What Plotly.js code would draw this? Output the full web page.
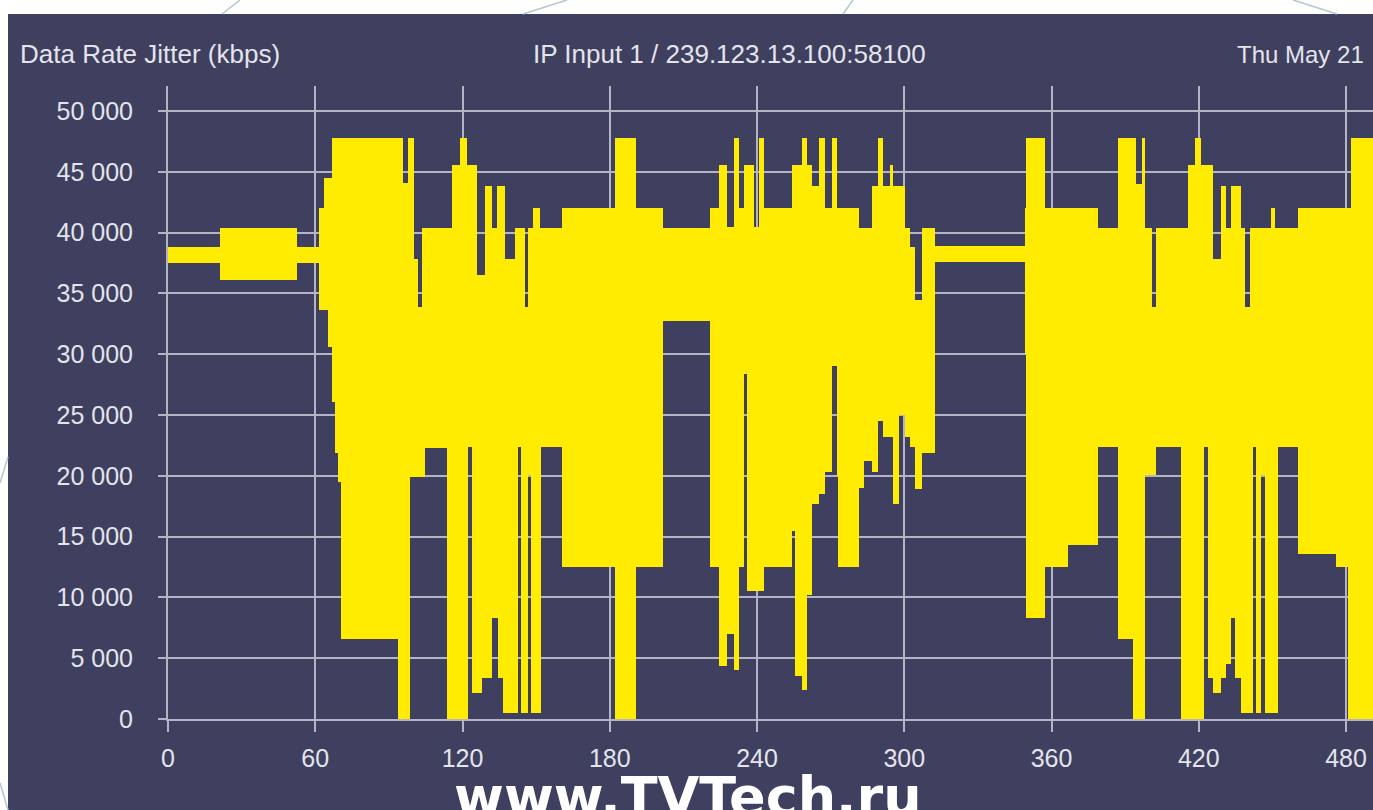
<!DOCTYPE html>
<html><head><meta charset="utf-8">
<script src="https://cdn.plot.ly/plotly-3.0.1.min.js"></script>
<style>html,body{margin:0;padding:0;background:#fff;overflow:hidden;} #chart{width:1373px;height:810px;}</style>
</head><body><div id="chart"></div>
<script>
// Data Rate Jitter: each segment spans [segStart, segEnd] seconds with min/max kbps
const segStart = [0,21.2,52.6,61.4,63.6,65.3,66.7,68.1,69.4,70.6,93.8,95.8,97.8,98.6,100.4,102,103.6,104.7,113.7,115.7,119,121.7,122.4,123.8,125.8,127.8,129.2,131.9,133.9,134.6,136.6,137.3,141.3,142.6,144,145.3,146.7,148,148.7,151.4,152.1,160.6,182.3,190.8,201.6,221,224.4,227.8,230.5,232.6,234.6,236,238.6,240.7,242.7,254.2,255.6,258.3,260.3,262.4,265.1,267.8,270.5,272.5,273.2,281.4,283.5,286.8,289.5,291.5,294.3,295.6,297.7,300.4,302.4,304.5,307.2,312.6,349.1,349.8,357.3,366.8,379,387.1,393.2,394.5,397,398,400.8,402.7,412.9,415.7,418.4,421.1,422.2,423.8,425.8,429.2,431.3,433,434.7,437.4,438.7,440.8,442.1,443.5,445.5,446.9,449.6,450.9,452.3,460.4,476,480.8,482.1];
const segEnd = [21.2,52.6,61.4,63.6,65.3,66.7,68.1,69.4,70.6,93.8,95.8,97.8,98.6,100.4,102,103.6,104.7,113.7,115.7,119,121.7,122.4,123.8,125.8,127.8,129.2,131.9,133.9,134.6,136.6,137.3,141.3,142.6,144,145.3,146.7,148,148.7,151.4,152.1,160.6,182.3,190.8,201.6,221,224.4,227.8,230.5,232.6,234.6,236,238.6,240.7,242.7,254.2,255.6,258.3,260.3,262.4,265.1,267.8,270.5,272.5,273.2,281.4,283.5,286.8,289.5,291.5,294.3,295.6,297.7,300.4,302.4,304.5,307.2,312.6,349.1,349.8,357.3,366.8,379,387.1,393.2,394.5,397,398,400.8,402.7,412.9,415.7,418.4,421.1,422.2,423.8,425.8,429.2,431.3,433,434.7,437.4,438.7,440.8,442.1,443.5,445.5,446.9,449.6,450.9,452.3,460.4,476,480.8,482.1,491];
const segMin = [37500,36100,37500,33600,33600,30600,26100,21900,19500,6600,0,0,0,19900,19900,19900,19900,22300,0,0,0,0,22400,2100,2100,3400,3400,8300,8300,3400,500,500,500,22400,500,500,20100,500,500,500,22400,12500,0,12500,32700,12500,4400,7000,4000,12500,28400,10500,10500,10500,12500,15500,3500,2400,10200,17700,18500,20300,29000,20000,12500,19000,21200,20300,24500,23200,23200,17700,25000,23200,22400,18900,21900,37600,30000,8300,12500,14300,22400,6600,0,0,0,20100,20100,22400,0,0,0,0,22400,3400,2100,3400,4500,8300,3400,500,500,500,22400,500,20100,500,500,500,22400,13600,12500,0,0];
const segMax = [38800,40400,38800,42000,44500,44500,47800,47800,47800,47800,47800,44100,47800,47800,37800,33900,40400,40400,40400,45600,47800,45600,45600,45600,36500,36500,43800,40400,43800,43800,43800,37800,40400,40400,40400,33900,40400,40400,42000,40400,40400,42000,47800,42000,40400,42000,45600,40500,47800,42000,45600,45600,40500,47800,42000,45600,45600,47800,45600,43800,47800,42000,47800,42000,42000,40400,40400,43800,47800,43800,45600,43800,43800,40400,38800,34500,40400,38900,42000,47800,42000,42000,40400,47800,47800,44000,47800,40400,33900,40400,40400,45600,47800,45600,45600,45600,37800,43800,40400,43800,43800,40400,33900,40400,40400,40400,40400,40400,42000,40400,40400,42000,42000,42000,47800];
const xTickVals = [0,60,120,180,240,300,360,420,480];
const yTickVals = [0,5000,10000,15000,20000,25000,30000,35000,40000,45000,50000];
const chartTitle = "Data Rate Jitter (kbps)";
const streamLabel = "IP Input 1 / 239.123.13.100:58100";
const dateLabel = "Thu May 21";
const watermark = "www.TVTech.ru";

const NAVY = '#3f3f5f', GRID = '#b4b4c6', TXT = '#e4e4ec', DECO = '#b0c8d0';
const FONT = 'Liberation Sans, Arial, sans-serif';

const trace = {
  type: 'bar',
  x: segStart.map((s, i) => (s + segEnd[i]) / 2),
  width: segStart.map((s, i) => segEnd[i] - s),
  base: segMin,
  y: segMax.map((m, i) => m - segMin[i]),
  marker: {color: '#ffec00', line: {width: 0}},
  hoverinfo: 'skip'
};

// pixel helpers for decorative frame (plot area: left 168, right 1373, top 86, bottom 719)
const px = v => (v - 168) / 1205;
const py = v => (719 - v) / 633;
const deco = (x0, y0, x1, y1) => ({type: 'line', xref: 'paper', yref: 'paper', layer: 'below',
  x0: px(x0), y0: py(y0), x1: px(x1), y1: py(y1), line: {color: DECO, width: 1.5}});

const layout = {
  width: 1373, height: 810,
  margin: {l: 168, r: 0, t: 86, b: 91, pad: 0},
  paper_bgcolor: '#ffffff', plot_bgcolor: NAVY,
  separators: '. ',
  showlegend: false,
  bargap: 0,
  xaxis: {range: [0, 491], tickmode: 'array', tickvals: xTickVals, ticks: 'outside', ticklen: 11, tickwidth: 2,
    tickcolor: GRID, showgrid: true, gridcolor: GRID, gridwidth: 2, zeroline: false, showline: true,
    linecolor: GRID, linewidth: 2, tickfont: {family: FONT, size: 25, color: TXT}, ticklabelstandoff: 5, fixedrange: true},
  yaxis: {range: [0, 52060], tickmode: 'array', tickvals: yTickVals, tickformat: ',d', ticks: 'outside', ticklen: 8, tickwidth: 2,
    tickcolor: GRID, showgrid: true, gridcolor: GRID, gridwidth: 2, zeroline: false, showline: true,
    linecolor: GRID, linewidth: 2, tickfont: {family: FONT, size: 25, color: TXT}, ticklabelstandoff: 20, fixedrange: true},
  shapes: [
    {type: 'rect', xref: 'paper', yref: 'paper', layer: 'below', x0: px(8), x1: 1.02, y0: -0.3, y1: py(14),
      fillcolor: NAVY, line: {width: 0}},
    deco(240, 0, 222, 14), deco(567, 0, 523, 14), deco(853, 0, 843, 14), deco(1293, 0, 1337, 14),
    deco(8, 457, 0, 483), deco(0, 783, 8, 810)
  ],
  annotations: [
    {text: chartTitle, xref: 'paper', yref: 'paper', x: px(18), y: py(54), xanchor: 'left', yanchor: 'middle',
      showarrow: false, font: {family: FONT, size: 26, color: TXT}},
    {text: streamLabel, xref: 'paper', yref: 'paper', x: px(729), y: py(54), xanchor: 'center', yanchor: 'middle',
      showarrow: false, font: {family: FONT, size: 26, color: TXT}},
    {text: dateLabel, xref: 'paper', yref: 'paper', x: px(1366), y: py(54), xanchor: 'right', yanchor: 'middle',
      showarrow: false, font: {family: FONT, size: 24, color: TXT}},
    {text: watermark, xref: 'paper', yref: 'paper', x: px(688), y: py(796), xanchor: 'center', yanchor: 'middle',
      showarrow: false, font: {family: 'DejaVu Sans, sans-serif', size: 54, weight: 'bold', color: '#ffffff'}}
  ]
};

Plotly.newPlot('chart', [trace], layout, {displayModeBar: false, staticPlot: true});
</script>
</body></html>
